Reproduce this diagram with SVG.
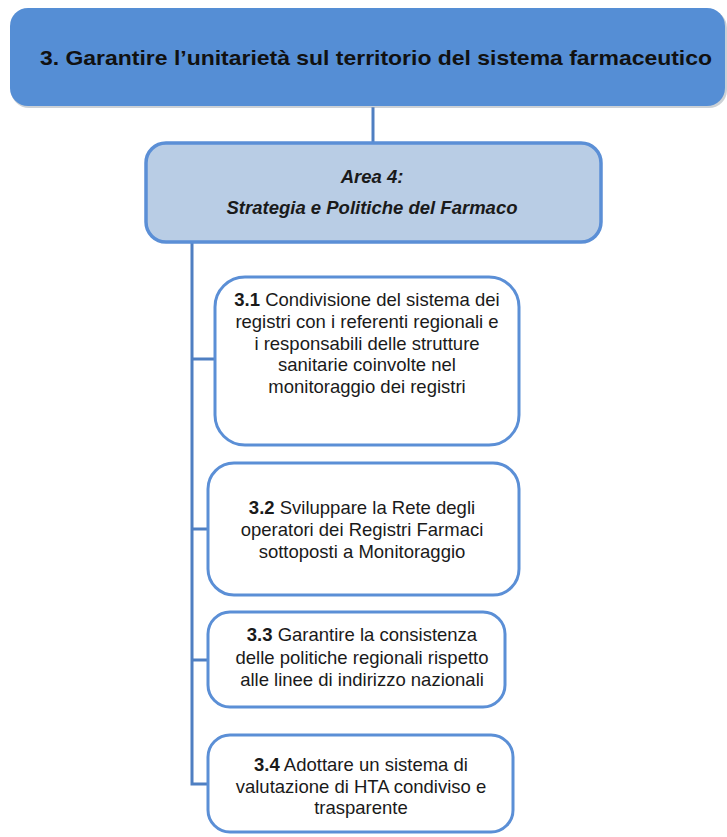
<svg xmlns="http://www.w3.org/2000/svg" width="727" height="837" viewBox="0 0 727 837">
<style>
.lbl{font-family:"Liberation Sans",Arial,sans-serif;font-size:18.5px;fill:#1a1a1a;text-anchor:middle}
.child{fill:#ffffff;stroke:#5B8FD6;stroke-width:3}
.conn{stroke:#4F7FC2;stroke-width:3;fill:none}
</style>
<rect width="727" height="837" fill="#ffffff"/>
<g id="connectors">
<line class="conn" x1="373" y1="107" x2="373" y2="143"/>
<polyline class="conn" points="192,243 192,784 208,784"/>
<line class="conn" x1="192" y1="359" x2="215" y2="359"/>
<line class="conn" x1="192" y1="529" x2="208" y2="529"/>
<line class="conn" x1="192" y1="660" x2="208" y2="660"/>
</g>
<g id="goal">
<rect x="11" y="10" width="716" height="98" rx="18" fill="#9aa3ad" opacity="0.5"/>
<rect x="10" y="8" width="715" height="98" rx="18" fill="#558ED5"/>
<text x="376" y="65" font-family="Liberation Sans,Arial,sans-serif" font-size="21" font-weight="bold" fill="#111" text-anchor="middle" textLength="672" lengthAdjust="spacingAndGlyphs">3. Garantire l’unitarietà sul territorio del sistema farmaceutico</text>
</g>
<g id="area4">
<rect x="146" y="143" width="455" height="99" rx="20" fill="#B9CDE5" stroke="#5B8FD6" stroke-width="3.5"/>
<text class="lbl" x="372" y="183" font-weight="bold" font-style="italic" font-size="17">Area 4:</text>
<text class="lbl" x="372" y="214" font-weight="bold" font-style="italic" font-size="17">Strategia e Politiche del Farmaco</text>
</g>
<g id="obj31">
<rect class="child" x="215" y="277" width="304" height="168" rx="30"/>
<text class="lbl" x="367" y="306"><tspan font-weight="bold">3.1</tspan> Condivisione del sistema dei</text>
<text class="lbl" x="367" y="328">registri con i referenti regionali e</text>
<text class="lbl" x="367" y="350">i responsabili delle strutture</text>
<text class="lbl" x="367" y="371">sanitarie coinvolte nel</text>
<text class="lbl" x="367" y="393">monitoraggio dei registri</text>
</g>
<g id="obj32">
<rect class="child" x="208" y="463" width="311" height="132" rx="26"/>
<text class="lbl" x="362" y="514"><tspan font-weight="bold">3.2</tspan> Sviluppare la Rete degli</text>
<text class="lbl" x="362" y="536">operatori dei Registri Farmaci</text>
<text class="lbl" x="362" y="558">sottoposti a Monitoraggio</text>
</g>
<g id="obj33">
<rect class="child" x="208" y="612" width="297" height="95" rx="22"/>
<text class="lbl" x="362" y="641"><tspan font-weight="bold">3.3</tspan> Garantire la consistenza</text>
<text class="lbl" x="362" y="664">delle politiche regionali rispetto</text>
<text class="lbl" x="362" y="686">alle linee di indirizzo nazionali</text>
</g>
<g id="obj34">
<rect class="child" x="208" y="735" width="305" height="97" rx="22"/>
<text class="lbl" x="361" y="771"><tspan font-weight="bold">3.4</tspan>  Adottare un sistema di</text>
<text class="lbl" x="361" y="793">valutazione di HTA condiviso e</text>
<text class="lbl" x="361" y="814">trasparente</text>
</g>
</svg>
